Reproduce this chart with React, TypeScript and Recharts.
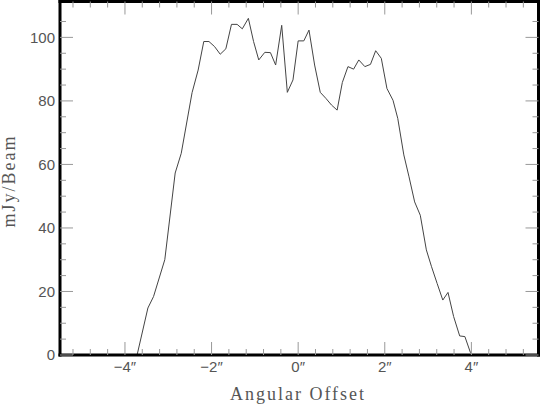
import React from 'react';
import { LineChart, Line, XAxis, YAxis, Label } from 'recharts';

const offsets = [
  -3.72, -3.47, -3.34, -3.08, -2.84, -2.70, -2.45, -2.31, -2.18, -2.06,
  -1.93, -1.80, -1.67, -1.54, -1.41, -1.29, -1.15, -1.03, -0.91, -0.77,
  -0.64, -0.52, -0.38, -0.25, -0.12, 0.0, 0.13, 0.25, 0.38, 0.51,
  0.64, 0.77, 0.90, 1.02, 1.15, 1.28, 1.40, 1.54, 1.67, 1.79,
  1.92, 2.05, 2.19, 2.30, 2.44, 2.56, 2.69, 2.82, 2.96, 3.08,
  3.21, 3.34, 3.46, 3.59, 3.73, 3.85, 3.98,
];

const flux = [
  0, 14.8, 18.4, 30.0, 57.3, 63.5, 82.6, 89.7, 98.7, 98.7,
  97.1, 94.7, 96.4, 104.1, 104.1, 102.7, 106.0, 98.7, 92.9, 95.3,
  95.2, 91.3, 103.8, 82.7, 86.6, 98.9, 98.9, 102.3, 91.3, 82.7,
  80.8, 78.7, 77.1, 85.8, 90.8, 90.0, 92.9, 90.8, 91.5, 95.8,
  93.4, 83.9, 80.2, 74.5, 63.0, 56.1, 48.2, 44.0, 33.1, 27.8,
  22.5, 17.3, 19.7, 12.1, 6.0, 5.8, 0.7,
];

const xTicks = [
  -5.2, -4.8, -4.4, -4, -3.6, -3.2, -2.8, -2.4, -2, -1.6, -1.2, -0.8, -0.4,
  0, 0.4, 0.8, 1.2, 1.6, 2, 2.4, 2.8, 3.2, 3.6, 4, 4.4, 4.8, 5.2,
];
const xMajorTicks = [-4, -2, 0, 2, 4];
const xTickLabels = ['\u22124\u2033', '\u22122\u2033', '0\u2033', '2\u2033', '4\u2033'];

const yTicks = [0, 5, 10, 15, 20, 25, 30, 35, 40, 45, 50, 55, 60, 65, 70, 75, 80, 85, 90, 95, 100, 105];
const yMajorTicks = [0, 20, 40, 60, 80, 100];
const yTickLabels = ['0', '20', '40', '60', '80', '100'];

const xTitle = 'Angular Offset';
const yTitle = 'mJy/Beam';

const data = offsets.map((x, i) => ({ x, y: flux[i] }));

const TICK_COLOR = '#999';
const TEXT_COLOR = '#555';
const MAJOR = 13;
const MINOR = 6;

const isMajor = (v: number, majors: number[]) => majors.some((m) => Math.abs(m - v) < 1e-6);

const BottomTick = (props: any) => {
  const { x, y, payload } = props;
  const v = payload.value;
  const idx = xMajorTicks.findIndex((m) => Math.abs(m - v) < 1e-6);
  const len = idx >= 0 ? MAJOR : MINOR;
  return (
    <g>
      <line x1={x} y1={y} x2={x} y2={y - len} stroke={TICK_COLOR} strokeWidth={1} />
      {idx >= 0 && (
        <text x={x} y={y + 17} textAnchor="middle" fill={TEXT_COLOR} fontFamily="Liberation Sans" fontSize={15}>
          {xTickLabels[idx]}
        </text>
      )}
    </g>
  );
};

const TopTick = (props: any) => {
  const { x, y, payload } = props;
  const len = isMajor(payload.value, xMajorTicks) ? MAJOR : MINOR;
  return <line x1={x} y1={y} x2={x} y2={y + len} stroke={TICK_COLOR} strokeWidth={1} />;
};

const LeftTick = (props: any) => {
  const { x, y, payload } = props;
  const v = payload.value;
  const idx = yMajorTicks.findIndex((m) => Math.abs(m - v) < 1e-6);
  const len = idx >= 0 ? MAJOR : MINOR;
  return (
    <g>
      <line x1={x} y1={y} x2={x + len} y2={y} stroke={TICK_COLOR} strokeWidth={1} />
      {idx >= 0 && (
        <text x={x - 5} y={y} dy="0.36em" textAnchor="end" fill={TEXT_COLOR} fontFamily="Liberation Sans" fontSize={15}>
          {yTickLabels[idx]}
        </text>
      )}
    </g>
  );
};

const RightTick = (props: any) => {
  const { x, y, payload } = props;
  const len = isMajor(payload.value, yMajorTicks) ? MAJOR : MINOR;
  return <line x1={x} y1={y} x2={x - len} y2={y} stroke={TICK_COLOR} strokeWidth={1} />;
};

const frameLine = { stroke: '#000', strokeWidth: 3, strokeLinecap: 'square' as const };

export default function App() {
  return (
    <div style={{ position: 'absolute', left: 0, top: 0, width: 540, height: 404, background: '#fff' }}>
      <LineChart
        width={540}
        height={404}
        data={data}
        margin={{ top: 0.5, right: 0.5, left: 59, bottom: 48 }}
      >
        <XAxis
          dataKey="x"
          type="number"
          domain={[-5.5, 5.55]}
          ticks={xTicks}
          interval={0}
          height={1}
          tickSize={0}
          tickMargin={0}
          tickLine={false}
          axisLine={frameLine}
          tick={<BottomTick />}
          allowDataOverflow
        >
          <Label
            content={() => (
              <text
                x={298}
                y={400}
                textAnchor="middle"
                fill={TEXT_COLOR}
                fontFamily="Liberation Serif"
                fontSize={18}
                letterSpacing={2}
              >
                {xTitle}
              </text>
            )}
          />
        </XAxis>
        <XAxis
          xAxisId="top"
          orientation="top"
          dataKey="x"
          type="number"
          domain={[-5.5, 5.55]}
          ticks={xTicks}
          interval={0}
          height={1}
          tickSize={0}
          tickMargin={0}
          tickLine={false}
          axisLine={frameLine}
          tick={<TopTick />}
          allowDataOverflow
        />
        <YAxis
          type="number"
          domain={[0, 111.3]}
          ticks={yTicks}
          interval={0}
          width={1}
          tickSize={0}
          tickMargin={0}
          tickLine={false}
          axisLine={frameLine}
          tick={<LeftTick />}
          allowDataOverflow
        >
          <Label
            content={() => (
              <text
                transform="translate(15,181) rotate(-90)"
                textAnchor="middle"
                fill={TEXT_COLOR}
                fontFamily="Liberation Serif"
                fontSize={18}
                letterSpacing={2}
              >
                {yTitle}
              </text>
            )}
          />
        </YAxis>
        <YAxis
          yAxisId="right"
          orientation="right"
          type="number"
          domain={[0, 111.3]}
          ticks={yTicks}
          interval={0}
          width={1}
          tickSize={0}
          tickMargin={0}
          tickLine={false}
          axisLine={frameLine}
          tick={<RightTick />}
          allowDataOverflow
        />
        <Line
          type="linear"
          dataKey="y"
          stroke="#444"
          strokeWidth={1}
          dot={false}
          activeDot={false}
          isAnimationActive={false}
        />
      </LineChart>
    </div>
  );
}
